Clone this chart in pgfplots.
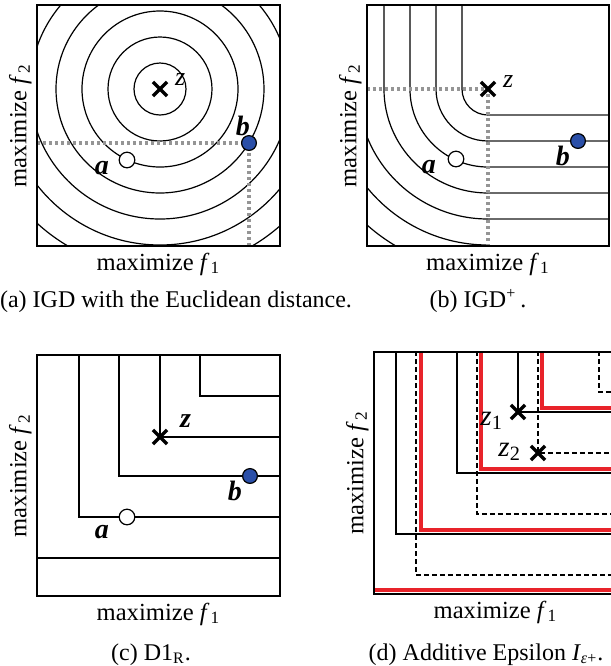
\documentclass[border=0pt]{standalone}
\usepackage{fontspec}
\setmainfont{Liberation Serif}
\usepackage{pgfplots}
\pgfplotsset{compat=1.18}
\definecolor{bblue}{HTML}{2A4FA8}
\definecolor{rred}{HTML}{E8232A}
\definecolor{dgray}{HTML}{959595}
\definecolor{hgray}{HTML}{6A6A6A}
\newcommand{\lblfont}{\fontsize{12.3}{14}\selectfont}
\tikzset{cl/.style={black, line width=0.6pt}}
\pgfplotsset{
  panel/.style={
    scale only axis,
    xtick=\empty, ytick=\empty,
    axis line style={line width=1pt},
    axis on top,
    clip=true,
    xlabel={maximize \textit{f}\kern0.6pt\textsubscript{1}},
    ylabel={maximize \textit{f}\kern0.6pt\textsubscript{2}},
    every axis x label/.style={at={(axis description cs:0.5,0)}, anchor=base, yshift=-12pt, font=\lblfont},
    every axis y label/.style={at={(axis description cs:-0.044,0.5)}, anchor=base, rotate=90, font=\lblfont},
  },
  ptw/.style={only marks, mark=*, mark size=3.9pt, mark options={fill=white, draw=black, line width=0.6pt}},
  ptb/.style={only marks, mark=*, mark size=3.7pt, mark options={fill=bblue, draw=black, line width=0.6pt}},
  ptz/.style={only marks, mark=x, mark size=5pt, mark options={line width=1.7pt, line cap=butt}},
  dotl/.style={dgray, line width=1.6pt, dash pattern=on 1.6pt off 1.4pt},
}
\newcommand{\bi}{\fontsize{14}{14}\selectfont\bfseries\itshape}
\newcommand{\zi}{\fontsize{13}{13}\selectfont\itshape}
\newcommand{\zs}{\fontsize{14.5}{14.5}\selectfont\itshape}
\begin{document}
\begin{tikzpicture}
\useasboundingbox (0,0) rectangle (305.5pt,-333pt);
\clip (0,0) rectangle (305.5pt,-333pt);

% ---------- (a) ----------
\begin{axis}[panel, at={(18.5pt,-123pt)}, anchor=south west, width=121.5pt, height=120.5pt,
  xmin=0, xmax=243, ymin=0, ymax=241]
\draw[cl] (axis cs:123,157) circle[radius=13pt];
\draw[cl] (axis cs:123,157) circle[radius=26pt];
\draw[cl] (axis cs:123,157) circle[radius=39pt];
\draw[cl] (axis cs:123,157) circle[radius=52pt];
\draw[cl] (axis cs:123,157) circle[radius=65pt];
\draw[cl] (axis cs:123,157) circle[radius=78pt];
\draw[cl] (axis cs:123,157) circle[radius=91pt];
\addplot[dotl] coordinates {(0,103) (212,103) (212,0)};
\addplot[ptw] coordinates {(90,86)};
\addplot[ptb] coordinates {(212,103)};
\addplot[ptz] coordinates {(123,157)};
\node[anchor=base east, font=\bi] at (axis cs:79,72) {a};
\node[anchor=base, font=\bi] at (axis cs:206,111) {b};
\node[anchor=base west, font=\zi] at (axis cs:131,161) {z};
\end{axis}

% ---------- (b) ----------
\begin{axis}[panel, at={(183.5pt,-123pt)}, anchor=south west, width=121pt, height=120.5pt,
  xmin=0, xmax=242, ymin=0, ymax=241]
\draw[cl] (axis cs:95,242) -- (axis cs:95,157) arc[start angle=180, end angle=270, radius=13pt];
\draw[cl] (axis cs:69,242) -- (axis cs:69,157) arc[start angle=180, end angle=270, radius=26pt];
\draw[cl] (axis cs:43,242) -- (axis cs:43,157) arc[start angle=180, end angle=270, radius=39pt];
\draw[cl] (axis cs:17,242) -- (axis cs:17,157) arc[start angle=180, end angle=270, radius=52pt];
\draw[cl] (axis cs:-9,157) arc[start angle=180, end angle=270, radius=65pt];
\draw[cl] (axis cs:-35,157) arc[start angle=180, end angle=270, radius=78pt];
\draw[cl] (axis cs:-61,157) arc[start angle=180, end angle=270, radius=91pt];
\addplot[hgray, line width=0.8pt] coordinates {(121,131) (242,131)};
\addplot[hgray, line width=0.8pt] coordinates {(121,105) (242,105)};
\addplot[hgray, line width=0.8pt] coordinates {(121,79) (242,79)};
\addplot[hgray, line width=0.8pt] coordinates {(121,53) (242,53)};
\addplot[hgray, line width=0.8pt] coordinates {(121,27) (242,27)};
\addplot[dotl] coordinates {(0,157) (121,157) (121,0)};
\addplot[ptw] coordinates {(89,87)};
\addplot[ptb] coordinates {(211,105)};
\addplot[ptz] coordinates {(121,157)};
\node[anchor=base east, font=\bi] at (axis cs:76,73) {a};
\node[anchor=base, font=\bi] at (axis cs:196,81) {b};
\node[anchor=base west, font=\zi] at (axis cs:129,159) {z};
\end{axis}

% ---------- (c) ----------
\begin{axis}[panel, at={(18.5pt,-298pt)}, anchor=south west, width=121.5pt, height=120.5pt,
  xmin=0, xmax=243, ymin=0, ymax=241]
\addplot[black, line width=0.7pt] coordinates {(163,242) (163,200) (243,200)};
\addplot[black, line width=0.7pt] coordinates {(123,242) (123,159) (243,159)};
\addplot[black, line width=0.7pt] coordinates {(82,242) (82,120) (243,120)};
\addplot[black, line width=1.0pt] coordinates {(42,242) (42,79) (243,79)};
\addplot[black, line width=0.9pt] coordinates {(0,38) (243,38)};
\addplot[ptw] coordinates {(90,79)};
\addplot[ptb] coordinates {(213,120)};
\addplot[ptz] coordinates {(123,159)};
\node[anchor=base east, font=\bi] at (axis cs:79,58) {a};
\node[anchor=base, font=\bi] at (axis cs:198,96) {b};
\node[anchor=base west, font=\bi] at (axis cs:136,169) {z};
\end{axis}

% ---------- (d) ----------
\begin{axis}[panel, at={(187pt,-297pt)}, anchor=south west, width=121.5pt, height=121pt,
  xmin=0, xmax=243, ymin=0, ymax=242]
\addplot[black, line width=0.6pt, dash pattern=on 2.5pt off 1.5pt] coordinates {(225,243) (225,202) (243,202)};
\addplot[black, line width=0.6pt, dash pattern=on 2.5pt off 1.5pt] coordinates {(164,243) (164,141) (243,141)};
\addplot[black, line width=0.6pt, dash pattern=on 2.5pt off 1.5pt] coordinates {(103,243) (103,80) (243,80)};
\addplot[black, line width=0.6pt, dash pattern=on 2.5pt off 1.5pt] coordinates {(42,243) (42,19) (243,19)};
\addplot[black, line width=0.8pt] coordinates {(144,243) (144,182) (243,182)};
\addplot[black, line width=0.8pt] coordinates {(83,243) (83,121) (243,121)};
\addplot[black, line width=0.8pt] coordinates {(22,243) (22,60) (243,60)};
\addplot[rred, line width=2pt] coordinates {(168,243) (168,186) (243,186)};
\addplot[rred, line width=2pt] coordinates {(107,243) (107,125) (243,125)};
\addplot[rred, line width=2pt] coordinates {(47,243) (47,64) (243,64)};
\addplot[rred, line width=2pt] coordinates {(0,4.5) (243,4.5)};
\addplot[ptz] coordinates {(144,182)};
\addplot[ptz] coordinates {(164,141)};
\node[anchor=base east, font=\zs] at (axis cs:136,169) {z\textsubscript{\upshape 1}};
\node[anchor=base east, font=\zs] at (axis cs:154,138) {z\textsubscript{\upshape 2}};
\end{axis}

% ---------- captions ----------
\node[anchor=base, font=\fontsize{12}{14}\selectfont] at (88pt,-153.5pt) {(a) IGD with the Euclidean distance.};
\node[anchor=base, font=\fontsize{12}{14}\selectfont] at (239pt,-153.5pt) {(b) IGD\textsuperscript{+}\,.};
\node[anchor=base, font=\fontsize{12}{14}\selectfont] at (75.5pt,-330pt) {(c) D1\textsubscript{R}.};
\node[anchor=base, font=\fontsize{12}{14}\selectfont] at (243pt,-330pt) {(d) Additive Epsilon \textit{I}\textsubscript{\textit{ε}+}.};
\end{tikzpicture}
\end{document}
